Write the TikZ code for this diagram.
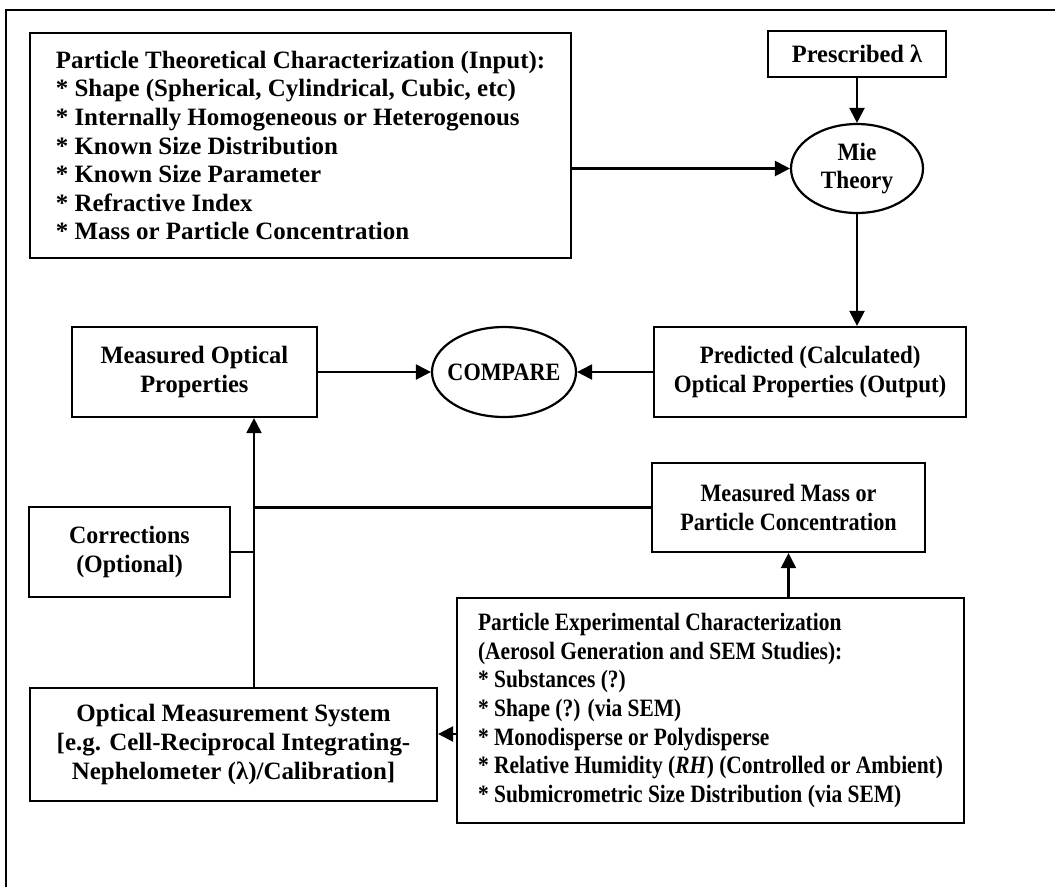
\documentclass[tikz,border=0pt]{standalone}
\usepackage{fontspec}
\setmainfont{Liberation Serif}
\usetikzlibrary{arrows.meta,positioning,shapes.geometric}

\begin{document}
\begin{tikzpicture}[
  x=0.02cm, y=-0.02cm,
  txt/.style={font=\bfseries\fontsize{14.2pt}{16.3pt}\selectfont\addfontfeatures{FakeStretch=#1}},
  box/.style={rectangle, draw=black, line width=1.25pt, align=center,
    inner sep=2pt, font=\bfseries\fontsize{14.2pt}{16.3pt}\selectfont},
  oval/.style={ellipse, draw=black, line width=1.25pt, align=center,
    inner xsep=-0.3cm, inner ysep=0pt},
  arrow/.style={-{Triangle[length=3mm, width=3mm]}, line width=1.25pt},
  link/.style={line width=1.25pt},
]
  \useasboundingbox (0,0) rectangle (1055,887);
  \draw[link] (6,887) |- (1055,10);

  \node[box, align=left, minimum width=10.82cm, minimum height=4.5cm] (theo) at (300.5,145.5)
    {Particle Theoretical Characterization (Input):\\{*} Shape (Spherical, Cylindrical, Cubic, etc)\\{*} Internally Homogeneous or Heterogenous\\{*} Known Size Distribution\\{*} Known Size Parameter\\{*} Refractive Index\\{*} Mass or Particle Concentration};
  \node[oval, txt=0.93, minimum width=2.64cm, minimum height=1.78cm] (mie) at (857,168.5) {Mie\\Theory};
  \node[box, txt=0.98, above=0.89cm of mie, minimum width=3.56cm, minimum height=0.92cm] (pres) {Prescribed λ};

  \node[oval, txt=0.89, minimum width=2.88cm, minimum height=1.8cm] (cmp) at (504,372) {COMPARE};
  \node[box, txt=0.98, left=2.26cm of cmp, minimum width=4.9cm, minimum height=1.8cm] (meas) {Measured Optical\\Properties};
  \node[box, txt=0.92, right=1.52cm of cmp, minimum width=6.24cm, minimum height=1.8cm] (pred) {Predicted (Calculated)\\Optical Properties (Output)};

  \node[box, txt=0.89, minimum width=5.46cm, minimum height=1.78cm] (mass) at (788.5,507.5) {Measured Mass or\\Particle Concentration};
  \node[box, txt=0.96, minimum width=4.02cm, minimum height=1.8cm] (corr) at (129.5,552) {Corrections\\(Optional)};
  \node[box, minimum width=8.14cm, minimum height=2.26cm] (oms) at (233.5,744.5)
    {Optical Measurement System\\{[e.g.} Cell-Reciprocal Integrating-\\Nephelometer (λ)/Calibration]};
  \node[box, txt=0.86, align=left, minimum width=10.14cm, minimum height=4.5cm] (exp) at (710.5,710.5)
    {Particle Experimental Characterization\\(Aerosol Generation and SEM Studies):\\{*} Substances (?)\\{*} Shape (?) (via SEM)\\{*} Monodisperse or Polydisperse\\{*} Relative Humidity (\textit{RH}) (Controlled or Ambient)\\{*} Submicrometric Size Distribution (via SEM)};

  \coordinate (bus) at (254,508);

  \draw[arrow] (theo.east |- mie.west) -- (mie.west);
  \draw[arrow] (pres) -- (mie);
  \draw[arrow] (mie.south) -- (mie.south |- pred.north);
  \draw[arrow] (pred) -- (cmp);
  \draw[arrow] (meas) -- (cmp);
  \draw[arrow] (oms.north -| bus) -- (meas.south -| bus);
  \draw[link] (mass.west) -- (mass.west -| bus);
  \draw[link] (corr.east) -- (corr.east -| bus);
  \draw[arrow] (exp.north -| mass.south) -- (mass.south);
  \draw[arrow] ([yshift=-0.47cm]exp.west) -- ([yshift=-0.47cm]exp.west -| oms.east);
\end{tikzpicture}
\end{document}
